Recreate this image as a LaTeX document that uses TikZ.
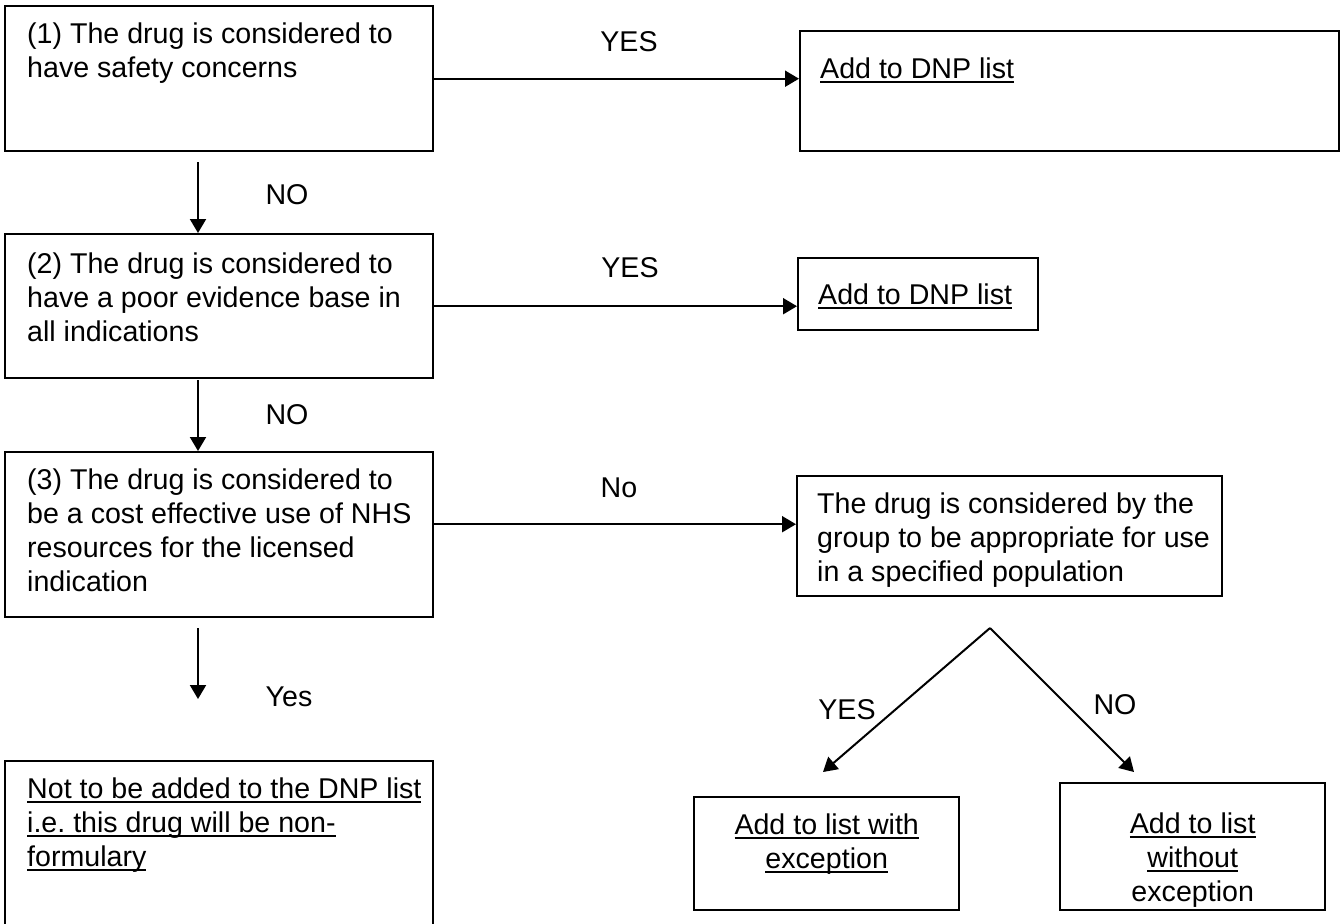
\documentclass[tikz,border=0pt]{standalone}
\usepackage{fontspec}
\setmainfont{Liberation Sans}
\usetikzlibrary{arrows.meta}
\hfuzz=30pt
\frenchspacing

\newsavebox{\ulbox}
\newcommand{\ulinetext}[1]{\leavevmode\sbox{\ulbox}{#1}\rlap{\rule[-2.6pt]{\wd\ulbox}{1.1pt}}\usebox{\ulbox}}
% boxed text: left padded or centred
\newcommand{\padtext}[3][11pt]{\parbox[t]{#2}{\raggedright\leftskip=#1\relax #3}}
\newcommand{\midtext}[2]{\parbox[t]{#1}{\centering #2}}

\tikzset{
  box/.style={draw, line width=1.2pt, anchor=north west, inner sep=0pt},
  link/.style={line width=1pt, -{Triangle[length=7pt,width=8pt]}},
}

\begin{document}
\begin{tikzpicture}[x=0.5pt, y=-0.5pt, every node/.style={font=\fontsize{14.3}{17}\selectfont}]
\path[use as bounding box, fill=white] (0,0) rectangle (1343,923);

% questions, left column
\node[box, text height=18.5pt, text depth=54pt] (q1) at (4,5) {\padtext{214pt}{(1) The drug is considered to\\have safety concerns}};
\node[box, text height=19.5pt, text depth=52.5pt] (q2) at (4,233) {\padtext{214pt}{(2) The drug is considered to\\have a poor evidence base in\\all indications}};
\node[box, text height=18.5pt, text depth=64pt] (q3) at (4,451) {\padtext{214pt}{(3) The drug is considered to\\be a cost effective use of NHS\\resources for the licensed\\indication}};
\node[box, text height=18.5pt, text depth=69pt] (keep) at (4,760) {\padtext{214pt}{\ulinetext{Not to be added to the DNP list}\\\ulinetext{i.e. this drug will be non-}\\\ulinetext{formulary}}};

% outcomes, right column
\node[box, text height=23.5pt, text depth=36.5pt] (dnp1) at (799,30) {\padtext[10pt]{269.5pt}{\ulinetext{Add to DNP list}}};
\node[box, text height=23pt, text depth=13pt] (dnp2) at (797,257) {\padtext[10pt]{120pt}{\ulinetext{Add to DNP list}}};
\node[box, text height=18.5pt, text depth=41.5pt] (pop) at (796,475) {\padtext[10pt]{212.5pt}{The drug is considered by the\\group to be appropriate for use\\in a specified population}};
\node[box, text height=18.5pt, text depth=38pt] (with) at (693,796) {\midtext{132.5pt}{\ulinetext{Add to list with}\\\ulinetext{exception}}};
\node[box, text height=25pt, text depth=38.5pt] (without) at (1059,782) {\midtext{132.5pt}{\ulinetext{Add to list}\\\ulinetext{without}\\exception}};

% yes branches
\draw[link] (q1.east) -- (q1.east -| dnp1.west);
\draw[link] (q2.east) -- (q2.east -| dnp2.west);
\draw[link] ([yshift=5.25pt]q3.east) -- ([yshift=5.25pt]q3.east -| pop.west);

% down the left
\coordinate (d1) at (198,162);
\coordinate (d2) at (198,380);
\coordinate (d3) at (198,628);
\coordinate (d3end) at (198,699);
\draw[link] (d1) -- (d1 |- q2.north);
\draw[link] (d2) -- (d2 |- q3.north);
\draw[link] (d3) -- (d3end);

% fork under the population box
\coordinate (fork) at (990,628);
\coordinate (forkL) at (823,772);
\coordinate (forkR) at (1134,772);
\draw[link] (fork) -- (forkL);
\draw[link] (fork) -- (forkR);

\node (yes1) at (629,42)  {YES};
\node (yes2) at (630,268) {YES};
\node (no3)  at (619,488) {No};
\node (no1)  at (287,195) {NO};
\node (no2)  at (287,415) {NO};
\node (yes3) at (289,697) {Yes};
\node (yesL) at (847,710) {YES};
\node (noR)  at (1115,705) {NO};
\end{tikzpicture}
\end{document}
